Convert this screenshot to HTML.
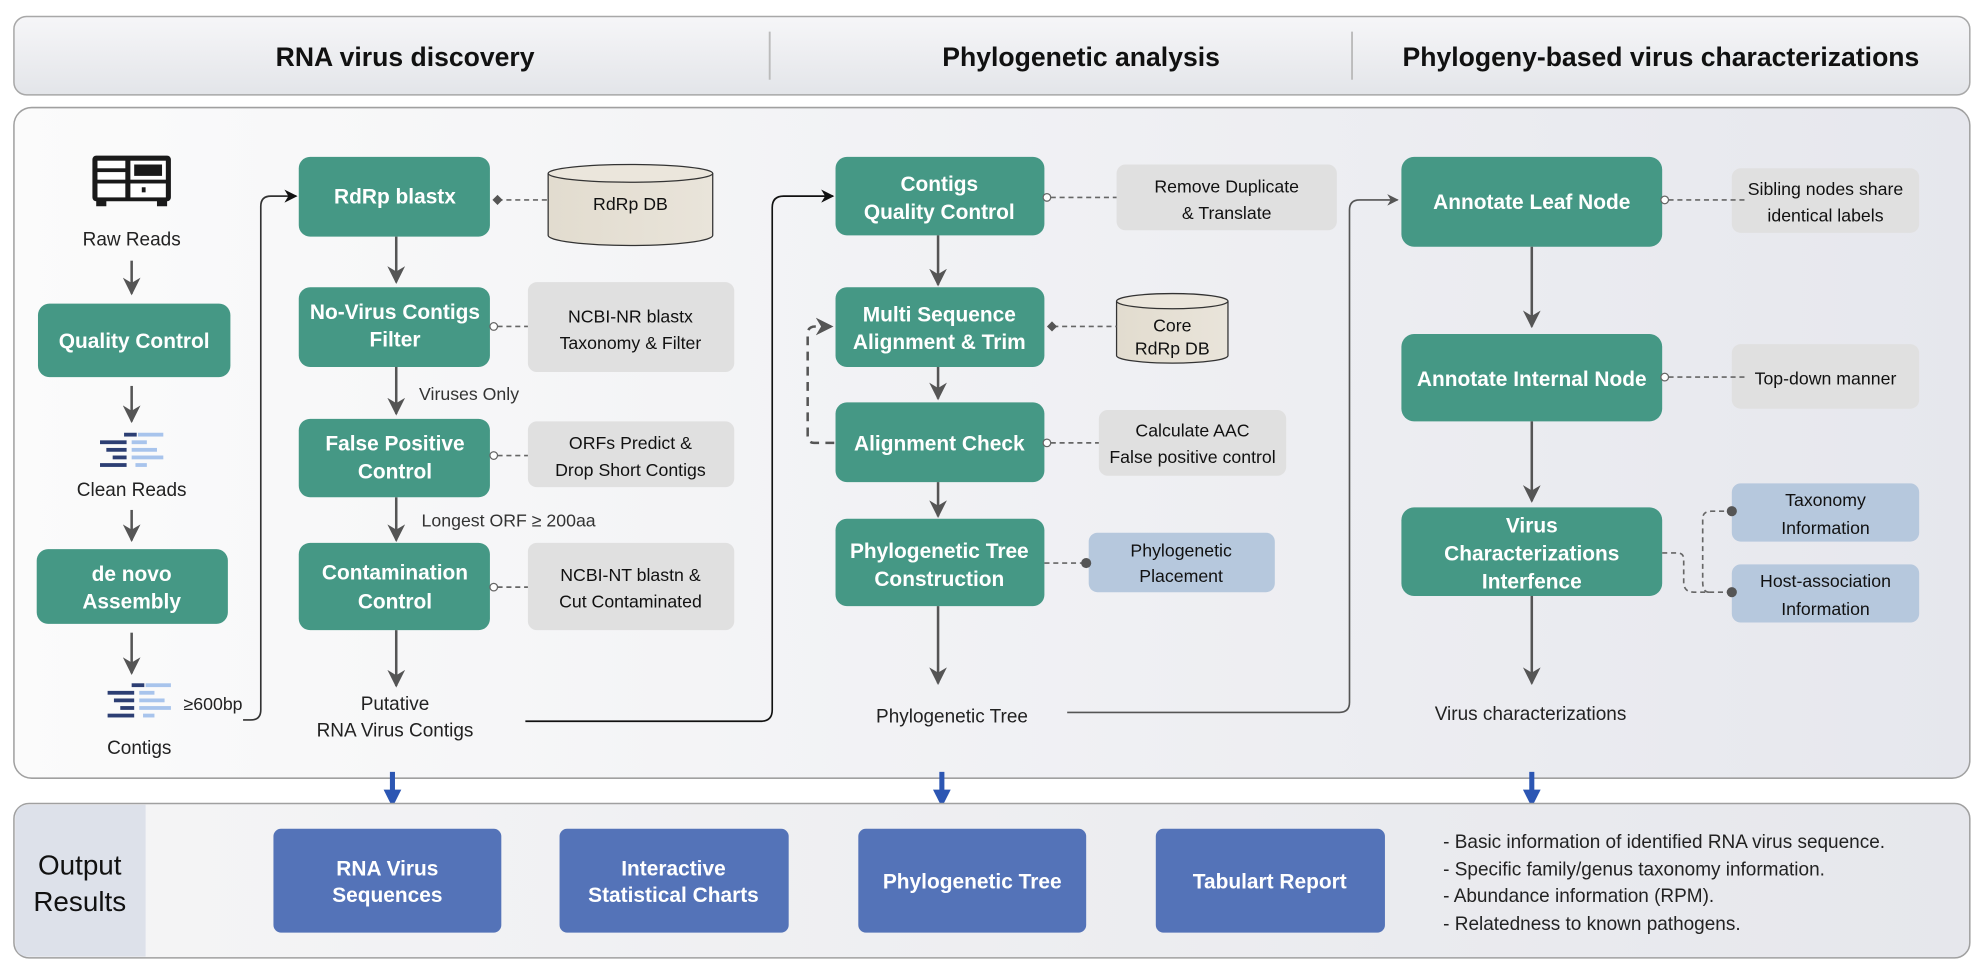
<!DOCTYPE html>
<html><head><meta charset="utf-8"><style>
html,body{margin:0;padding:0;background:#fff;}
svg{display:block;}
text{font-family:"Liberation Sans",Arial,sans-serif;}
.n{fill:#459885;}
.nt{fill:#fff;font-weight:bold;font-size:16.5px;text-anchor:middle;}
.g{fill:#e0e0e0;}
.gt{fill:#111;font-size:14px;text-anchor:middle;}
.b{fill:#b6c8dd;}
.lbl{fill:#222;font-size:15px;text-anchor:middle;}
.ar{stroke:#555;stroke-width:2;fill:none;}
.dl{stroke:#666;stroke-width:1.3;stroke-dasharray:4 3;fill:none;}
.ob{fill:#5473b8;}
.ot{fill:#fff;font-weight:bold;font-size:16.5px;text-anchor:middle;}
</style></head><body>
<svg width="1985" height="968" viewBox="0 0 1568 765" preserveAspectRatio="none" xmlns="http://www.w3.org/2000/svg">
<defs>
<marker id="ah" viewBox="0 0 10 10" refX="9" refY="5" markerWidth="7" markerHeight="7" orient="auto"><path d="M0,0 L10,5 L0,10 L3,5 z" fill="#555"/></marker>
<marker id="ahk" viewBox="0 0 10 10" refX="9" refY="5" markerWidth="8" markerHeight="8" orient="auto"><path d="M0,0 L10,5 L0,10 L3,5 z" fill="#111"/></marker>
<linearGradient id="hg" x1="0" y1="0" x2="0" y2="1"><stop offset="0" stop-color="#f6f6f8"/><stop offset="1" stop-color="#e3e5e9"/></linearGradient>
<linearGradient id="mg" x1="0" y1="0" x2="1" y2="0"><stop offset="0" stop-color="#fbfbfb"/><stop offset="1" stop-color="#e6e7ed"/></linearGradient>
<linearGradient id="og" x1="0" y1="0" x2="1" y2="0"><stop offset="0" stop-color="#f5f5f6"/><stop offset="1" stop-color="#e6e7ec"/></linearGradient>
<linearGradient id="cy" x1="0" y1="0" x2="1" y2="0"><stop offset="0" stop-color="#e2dccf"/><stop offset="1" stop-color="#e9e4da"/></linearGradient>
</defs>
<rect width="1568" height="765" fill="#fff"/>
<rect x="11" y="13" width="1545" height="62" rx="10" fill="url(#hg)" stroke="#a8a8a8" stroke-width="1.2"/>
<text x="320" y="52" font-size="21" font-weight="bold" text-anchor="middle" fill="#111">RNA virus discovery</text>
<line x1="608" y1="25" x2="608" y2="63" stroke="#bbb" stroke-width="1.5"/>
<text x="854" y="52" font-size="21" font-weight="bold" text-anchor="middle" fill="#111">Phylogenetic analysis</text>
<line x1="1068" y1="25" x2="1068" y2="63" stroke="#bbb" stroke-width="1.5"/>
<text x="1312" y="52" font-size="21" font-weight="bold" text-anchor="middle" fill="#111">Phylogeny-based virus characterizations</text>
<rect x="11" y="85" width="1545" height="530" rx="14" fill="url(#mg)" stroke="#a0a0a0" stroke-width="1.2"/>

<g fill="#1a1a1a">
<rect x="73" y="123" width="62" height="36" rx="3"/>
<rect x="76" y="158" width="8" height="5"/><rect x="124" y="158" width="8" height="5"/>
</g>
<g fill="#fff">
<rect x="77" y="127" width="22" height="6"/><rect x="77" y="136" width="22" height="6"/>
<rect x="103" y="127" width="28" height="15"/><rect x="106" y="130" width="22" height="9" fill="#1a1a1a"/>
<rect x="77" y="145" width="22" height="11"/><rect x="103" y="145" width="28" height="11"/>
</g>
<rect x="112" y="148" width="3" height="4" fill="#1a1a1a"/>
<text x="104" y="194" class="lbl" font-size="16">Raw Reads</text>
<line x1="104" y1="206" x2="104" y2="232" class="ar" marker-end="url(#ah)"/>
<rect x="30" y="240" width="152" height="58" rx="9" class="n"/>
<text x="106" y="275" class="nt">Quality Control</text>
<line x1="104" y1="305" x2="104" y2="333" class="ar" marker-end="url(#ah)"/>
<g id="reads">
<rect x="98" y="342" width="10" height="3" fill="#2c3e73"/><rect x="109" y="342" width="20" height="3" fill="#a8c4ec"/>
<rect x="79" y="348" width="21" height="3" fill="#2c3e73"/><rect x="104" y="348" width="12" height="3" fill="#a8c4ec"/>
<rect x="84" y="354" width="16" height="3" fill="#2c3e73"/><rect x="104" y="354" width="20" height="3" fill="#a8c4ec"/>
<rect x="89" y="360" width="11" height="3" fill="#2c3e73"/><rect x="104" y="360" width="25" height="3" fill="#a8c4ec"/>
<rect x="79" y="366" width="21" height="3" fill="#2c3e73"/><rect x="107" y="366" width="9" height="3" fill="#a8c4ec"/>
</g>
<text x="104" y="392" class="lbl" font-size="16">Clean Reads</text>
<line x1="104" y1="403" x2="104" y2="427" class="ar" marker-end="url(#ah)"/>
<rect x="29" y="434" width="151" height="59" rx="9" class="n"/>
<text x="104" y="459" class="nt">de novo</text>
<text x="104" y="481" class="nt">Assembly</text>
<line x1="104" y1="500" x2="104" y2="532" class="ar" marker-end="url(#ah)"/>
<use href="#reads" x="6" y="198"/>
<text x="145" y="561" font-size="14" fill="#222">≥600bp</text>
<text x="110" y="596" class="lbl" font-size="16">Contigs</text>
<path d="M192,569 L198,569 Q206,569 206,561 L206,163 Q206,155 214,155 L234,155" stroke="#333" stroke-width="1.3" fill="none" marker-end="url(#ahk)"/>

<rect x="236" y="124" width="151" height="63" rx="9" class="n"/>
<text x="312" y="161" class="nt">RdRp blastx</text>
<line x1="313" y1="187" x2="313" y2="223" class="ar" marker-end="url(#ah)"/>
<path d="M433,137 L433,186 A65,8 0 0 0 563,186 L563,137" fill="url(#cy)" stroke="#333" stroke-width="1"/>
<ellipse cx="498" cy="137" rx="65" ry="7" fill="#ebe6dc" stroke="#333" stroke-width="1"/>
<text x="498" y="166" class="gt" font-size="15">RdRp DB</text>
<line x1="393" y1="158" x2="433" y2="158" class="dl"/>
<path d="M389,158 l4,-4 l4,4 l-4,4z" fill="#555"/>

<rect x="236" y="227" width="151" height="63" rx="9" class="n"/>
<text x="312" y="252" class="nt">No-Virus Contigs</text>
<text x="312" y="274" class="nt">Filter</text>
<rect x="417" y="223" width="163" height="71" rx="7" class="g"/>
<text x="498" y="255" class="gt">NCBI-NR blastx</text>
<text x="498" y="276" class="gt">Taxonomy &amp; Filter</text>
<line x1="393" y1="258" x2="417" y2="258" class="dl"/><circle cx="390" cy="258" r="3" fill="#fff" stroke="#666" stroke-width="1"/>
<line x1="313" y1="290" x2="313" y2="327" class="ar" marker-end="url(#ah)"/>
<text x="331" y="316" font-size="14" fill="#333">Viruses Only</text>

<rect x="236" y="331" width="151" height="62" rx="9" class="n"/>
<text x="312" y="356" class="nt">False Positive</text>
<text x="312" y="378" class="nt">Control</text>
<rect x="417" y="333" width="163" height="52" rx="7" class="g"/>
<text x="498" y="355" class="gt">ORFs Predict &amp;</text>
<text x="498" y="376" class="gt">Drop Short Contigs</text>
<line x1="393" y1="360" x2="417" y2="360" class="dl"/><circle cx="390" cy="360" r="3" fill="#fff" stroke="#666" stroke-width="1"/>
<line x1="313" y1="393" x2="313" y2="427" class="ar" marker-end="url(#ah)"/>
<text x="333" y="416" font-size="14" fill="#333">Longest ORF ≥ 200aa</text>

<rect x="236" y="429" width="151" height="69" rx="9" class="n"/>
<text x="312" y="458" class="nt">Contamination</text>
<text x="312" y="481" class="nt">Control</text>
<rect x="417" y="429" width="163" height="69" rx="7" class="g"/>
<text x="498" y="459" class="gt">NCBI-NT blastn &amp;</text>
<text x="498" y="480" class="gt">Cut Contaminated</text>
<line x1="393" y1="464" x2="417" y2="464" class="dl"/><circle cx="390" cy="464" r="3" fill="#fff" stroke="#666" stroke-width="1"/>
<line x1="313" y1="498" x2="313" y2="542" class="ar" marker-end="url(#ah)"/>
<text x="312" y="561" class="lbl" font-size="16">Putative</text>
<text x="312" y="582" class="lbl" font-size="16">RNA Virus Contigs</text>
<path d="M415,570 L601,570 Q610,570 610,561 L610,164 Q610,155 619,155 L658,155" stroke="#111" stroke-width="1.3" fill="none" marker-end="url(#ahk)"/>

<rect x="660" y="124" width="165" height="62" rx="9" class="n"/>
<text x="742" y="151" class="nt">Contigs</text>
<text x="742" y="173" class="nt">Quality Control</text>
<rect x="882" y="130" width="174" height="52" rx="7" class="g"/>
<text x="969" y="152" class="gt">Remove Duplicate</text>
<text x="969" y="173" class="gt">&amp; Translate</text>
<line x1="830" y1="156" x2="882" y2="156" class="dl"/><circle cx="827" cy="156" r="3" fill="#fff" stroke="#666" stroke-width="1"/>
<line x1="741" y1="186" x2="741" y2="225" class="ar" marker-end="url(#ah)"/>

<rect x="660" y="227" width="165" height="63" rx="9" class="n"/>
<text x="742" y="254" class="nt">Multi Sequence</text>
<text x="742" y="276" class="nt">Alignment &amp; Trim</text>
<path d="M882,238 L882,281 A44,6 0 0 0 970,281 L970,238" fill="url(#cy)" stroke="#333" stroke-width="1"/>
<ellipse cx="926" cy="238" rx="44" ry="6" fill="#ebe6dc" stroke="#333" stroke-width="1"/>
<text x="926" y="262" class="gt">Core</text>
<text x="926" y="280" class="gt">RdRp DB</text>
<line x1="832" y1="258" x2="882" y2="258" class="dl"/>
<path d="M827,258 l4,-4 l4,4 l-4,4z" fill="#555"/>
<line x1="741" y1="290" x2="741" y2="315" class="ar" marker-end="url(#ah)"/>

<rect x="660" y="318" width="165" height="63" rx="9" class="n"/>
<text x="742" y="356" class="nt">Alignment Check</text>
<rect x="868" y="324" width="148" height="52" rx="7" class="g"/>
<text x="942" y="345" class="gt">Calculate AAC</text>
<text x="942" y="366" class="gt">False positive control</text>
<line x1="830" y1="350" x2="868" y2="350" class="dl"/><circle cx="827" cy="350" r="3" fill="#fff" stroke="#666" stroke-width="1"/>
<path d="M659,350 L643,350 Q638,350 638,344 L638,264 Q638,258 644,258 L657,258" stroke="#555" stroke-width="2" stroke-dasharray="7 5" fill="none" marker-end="url(#ah)"/>
<line x1="741" y1="381" x2="741" y2="408" class="ar" marker-end="url(#ah)"/>

<rect x="660" y="410" width="165" height="69" rx="9" class="n"/>
<text x="742" y="441" class="nt">Phylogenetic Tree</text>
<text x="742" y="463" class="nt">Construction</text>
<rect x="860" y="421" width="147" height="47" rx="7" class="b"/>
<text x="933" y="440" class="gt">Phylogenetic</text>
<text x="933" y="460" class="gt">Placement</text>
<line x1="825" y1="445" x2="858" y2="445" class="dl"/><circle cx="858" cy="445" r="4" fill="#555"/>
<line x1="741" y1="479" x2="741" y2="540" class="ar" marker-end="url(#ah)"/>
<text x="752" y="571" class="lbl" font-size="16">Phylogenetic Tree</text>
<path d="M843,563 L1058,563 Q1066,563 1066,555 L1066,166 Q1066,158 1074,158 L1104,158" stroke="#555" stroke-width="1.3" fill="none" marker-end="url(#ah)"/>

<rect x="1107" y="124" width="206" height="71" rx="10" class="n"/>
<text x="1210" y="165" class="nt">Annotate Leaf Node</text>
<rect x="1368" y="133" width="148" height="51" rx="7" class="g"/>
<text x="1442" y="154" class="gt" font-size="15">Sibling nodes share</text>
<text x="1442" y="175" class="gt" font-size="15">identical labels</text>
<line x1="1318" y1="158" x2="1378" y2="158" class="dl"/><circle cx="1315" cy="158" r="3" fill="#fff" stroke="#666" stroke-width="1"/>
<line x1="1210" y1="195" x2="1210" y2="258" class="ar" marker-end="url(#ah)"/>

<rect x="1107" y="264" width="206" height="69" rx="10" class="n"/>
<text x="1210" y="305" class="nt">Annotate Internal Node</text>
<rect x="1368" y="272" width="148" height="51" rx="7" class="g"/>
<text x="1442" y="304" class="gt" font-size="15">Top-down manner</text>
<line x1="1318" y1="298" x2="1378" y2="298" class="dl"/><circle cx="1315" cy="298" r="3" fill="#fff" stroke="#666" stroke-width="1"/>
<line x1="1210" y1="333" x2="1210" y2="396" class="ar" marker-end="url(#ah)"/>

<rect x="1107" y="401" width="206" height="70" rx="10" class="n"/>
<text x="1210" y="421" class="nt">Virus</text>
<text x="1210" y="443" class="nt">Characterizations</text>
<text x="1210" y="465" class="nt">Interfence</text>
<rect x="1368" y="382" width="148" height="46" rx="7" class="b"/>
<text x="1442" y="400" class="gt">Taxonomy</text>
<text x="1442" y="422" class="gt">Information</text>
<rect x="1368" y="446" width="148" height="46" rx="7" class="b"/>
<text x="1442" y="464" class="gt">Host-association</text>
<text x="1442" y="486" class="gt">Information</text>
<path d="M1313,437 L1325,437 Q1330,437 1330,442 L1330,460 Q1330,468 1338,468 L1368,468" class="dl"/>
<path d="M1350,468 Q1345,468 1345,460 L1345,410 Q1345,404 1352,404 L1368,404" class="dl"/>
<circle cx="1368" cy="404" r="4" fill="#555"/><circle cx="1368" cy="468" r="4" fill="#555"/>
<line x1="1210" y1="471" x2="1210" y2="540" class="ar" marker-end="url(#ah)"/>
<text x="1209" y="569" class="lbl" font-size="16">Virus characterizations</text>

<g fill="#2c56b3">
<rect x="308" y="610" width="4" height="17"/><path d="M303,624 L317,624 L310,638 z"/>
<rect x="742" y="610" width="4" height="17"/><path d="M737,624 L751,624 L744,638 z"/>
<rect x="1208" y="610" width="4" height="17"/><path d="M1203,624 L1217,624 L1210,638 z"/>
</g>

<rect x="11" y="635" width="1545" height="122" rx="12" fill="url(#og)" stroke="#a0a0a0" stroke-width="1.2"/>
<path d="M23,636 L115,636 L115,756 L23,756 Q12,756 12,745 L12,647 Q12,636 23,636z" fill="#dde1ea"/>
<text x="63" y="691" font-size="22" text-anchor="middle" fill="#111">Output</text>
<text x="63" y="720" font-size="22" text-anchor="middle" fill="#111">Results</text>
<rect x="216" y="655" width="180" height="82" rx="6" class="ob"/>
<text x="306" y="692" class="ot">RNA Virus</text>
<text x="306" y="713" class="ot">Sequences</text>
<rect x="442" y="655" width="181" height="82" rx="6" class="ob"/>
<text x="532" y="692" class="ot">Interactive</text>
<text x="532" y="713" class="ot">Statistical Charts</text>
<rect x="678" y="655" width="180" height="82" rx="6" class="ob"/>
<text x="768" y="702" class="ot">Phylogenetic Tree</text>
<rect x="913" y="655" width="181" height="82" rx="6" class="ob"/>
<text x="1003" y="702" class="ot">Tabulart Report</text>
<g font-size="15" fill="#222">
<text x="1140" y="670">- Basic information of identified RNA virus sequence.</text>
<text x="1140" y="692">- Specific family/genus taxonomy information.</text>
<text x="1140" y="713">- Abundance information (RPM).</text>
<text x="1140" y="735">- Relatedness to known pathogens.</text>
</g>
</svg>
</body></html>
